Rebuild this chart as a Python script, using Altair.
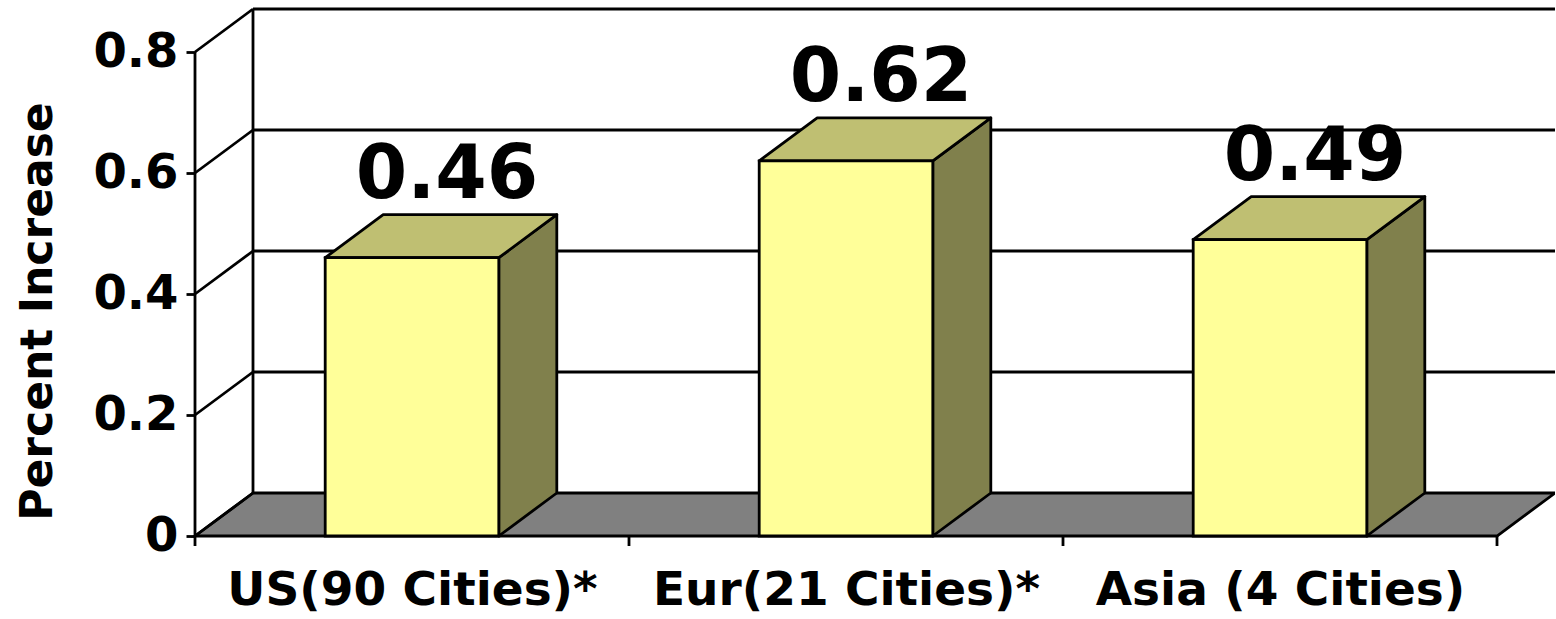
import altair as alt
import pandas as pd

# ---- data ----
categories = ["US(90 Cities)*", "Eur(21 Cities)*", "Asia (4 Cities)"]
values = [0.46, 0.62, 0.49]
y_ticks = [0, 0.2, 0.4, 0.6, 0.8]
y_title = "Percent Increase"

# ---- style ----
FRONT = "#FFFF99"
TOP = "#BFBF72"
SIDE = "#80804C"
FLOOR = "#808080"
FONT = "DejaVu Sans"
SW = 2.8

PX_PER_CAT = 434
PX_PER_UNIT = 605
DEPTH_X = 58
DEPTH_Y = 43
BAR_LO, BAR_HI = 0.3, 0.7

n = len(categories)
dxv = DEPTH_X / PX_PER_CAT
dyv = DEPTH_Y / PX_PER_UNIT
x_max = n + dxv
y_max = y_ticks[-1] + dyv
W = round(x_max * PX_PER_CAT)
H = round(y_max * PX_PER_UNIT)
tick_len = 10 / PX_PER_UNIT

xs = alt.Scale(domain=[0, x_max], nice=False, zero=False)
ys = alt.Scale(domain=[0, y_max], nice=False, zero=False)

label_expr = "[" + ",".join("'" + c + "'" for c in categories) + "][floor(datum.value)]"
x_axis = alt.Axis(values=[i + 0.5 for i in range(n)], labelExpr=label_expr,
                  ticks=False, domain=False, grid=False, labelFontSize=47,
                  labelFont=FONT, labelFontWeight="bold", labelColor="black",
                  labelPadding=31, title=None, labelFlush=False, labelOverlap=False,
                  labelLimit=0)
y_axis = alt.Axis(values=y_ticks, format="~g", domain=False, grid=False, ticks=True,
                  tickSize=9, tickWidth=SW, tickColor="black", labelFontSize=48,
                  labelFont=FONT, labelFontWeight="bold", labelColor="black",
                  labelPadding=8, title=y_title, titleFontSize=44, titleFont=FONT,
                  titleFontWeight="bold", titleColor="black", titleX=-157, titleY=302,
                  titleAngle=-90, titleAlign="center", titleBaseline="middle")


def X(f):
    return alt.X(f, type="quantitative", scale=xs, axis=x_axis, stack=None)


def Y(f):
    return alt.Y(f, type="quantitative", scale=ys, axis=y_axis, stack=None)


# ---- frame lines ----
rows = []
for v in y_ticks:
    rows.append(dict(x=0, y=v, x2=dxv, y2=v + dyv))          # left wall diagonals
for v in y_ticks[1:]:
    rows.append(dict(x=dxv, y=v + dyv, x2=x_max, y2=v + dyv))  # back wall grid
rows.append(dict(x=dxv, y=dyv, x2=dxv, y2=y_max))             # back-left edge
rows.append(dict(x=0, y=0, x2=0, y2=y_ticks[-1]))             # front axis
for i in range(n + 1):
    rows.append(dict(x=i, y=0, x2=i, y2=-tick_len))           # x ticks
lines_df = pd.DataFrame(rows)

floor_df = pd.DataFrame([dict(y=0, x=0, x2=n), dict(y=dyv, x=dxv, x2=n + dxv)])

front_rows, side_rows, top_rows, lab_rows = [], [], [], []
for i, (c, v) in enumerate(zip(categories, values)):
    front_rows.append(dict(cat=c, x=i + BAR_LO, x2=i + BAR_HI, y=0, y2=v))
    side_rows.append(dict(cat=c, x=i + BAR_HI, y=0, y2=v))
    side_rows.append(dict(cat=c, x=i + BAR_HI + dxv, y=dyv, y2=v + dyv))
    top_rows.append(dict(cat=c, y=v, x=i + BAR_LO, x2=i + BAR_HI))
    top_rows.append(dict(cat=c, y=v + dyv, x=i + BAR_LO + dxv, x2=i + BAR_HI + dxv))
    lab_rows.append(dict(cat=c, x=i + 0.5 + dxv / 2, y=v + dyv, v=v))

floor = alt.Chart(floor_df).mark_area(orient="horizontal", fill=FLOOR, stroke="black",
                                      strokeWidth=SW).encode(y=Y("y"), x=X("x"), x2="x2")
lines = alt.Chart(lines_df).mark_rule(color="black", strokeWidth=SW).encode(
    x=X("x"), x2="x2", y=Y("y"), y2="y2")
side = alt.Chart(pd.DataFrame(side_rows)).mark_area(
    orient="vertical", fill=SIDE, stroke="black", strokeWidth=SW, strokeJoin="round").encode(
    x=X("x"), y=Y("y"), y2="y2", detail="cat:N")
top = alt.Chart(pd.DataFrame(top_rows)).mark_area(
    orient="horizontal", fill=TOP, stroke="black", strokeWidth=SW, strokeJoin="round").encode(
    y=Y("y"), x=X("x"), x2="x2", detail="cat:N")
front = alt.Chart(pd.DataFrame(front_rows)).mark_rect(
    fill=FRONT, stroke="black", strokeWidth=SW).encode(x=X("x"), x2="x2", y=Y("y"), y2="y2")
labels = alt.Chart(pd.DataFrame(lab_rows)).mark_text(
    font=FONT, fontWeight="bold", fontSize=74, color="black", baseline="alphabetic",
    align="center", dx=6, dy=-17).encode(x=X("x"), y=Y("y"), text=alt.Text("v:Q", format=".2f"))

chart = alt.layer(floor, lines, side, top, front, labels).properties(
    width=W, height=H,
    padding={"left": 195, "top": 9, "right": 0, "bottom": 83},
    autosize=alt.AutoSizeParams(type="none"),
    background="white",
).configure_view(stroke=None)

chart.save("out.html", embed_options={"renderer": "svg", "actions": False})
